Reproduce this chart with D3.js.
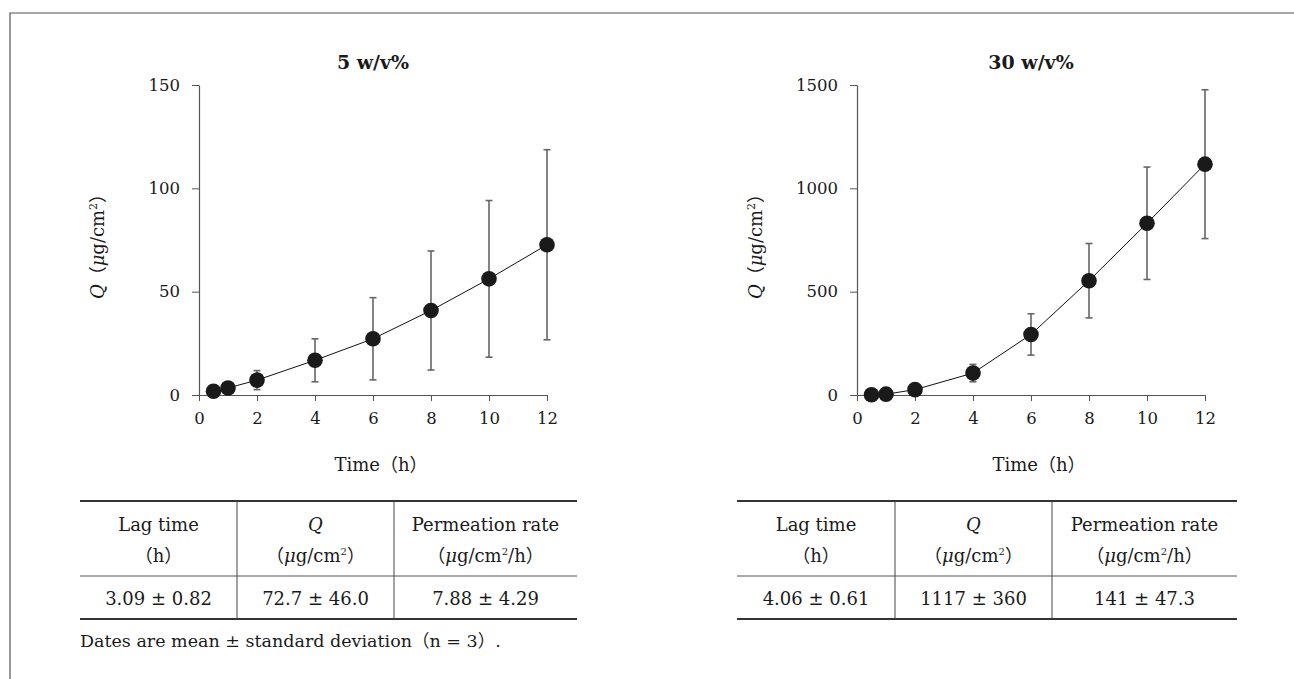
<!DOCTYPE html>
<html>
<head>
<meta charset="utf-8">
<script src="https://cdn.jsdelivr.net/npm/d3@7"></script>
<style>
  body { margin: 0; background: #fff; }
  svg text { font-family: "DejaVu Serif", "Noto Sans CJK JP", serif; fill: #1a1a1a; }
  .axis path, .axis line { stroke: #555; }
</style>
</head>
<body>
<script>
// sampling times (h)
const times = [0.5, 1, 2, 4, 6, 8, 10, 12];
// cumulative permeated amount Q (ug/cm2), mean and SD
const q5 = [1.8, 3.4, 7.2, 16.8, 27.2, 40.9, 56.2, 72.7];
const sd5 = [0.8, 1.2, 4.6, 10.4, 19.9, 28.8, 37.9, 46.0];
const q30 = [1, 4, 26, 106, 293, 553, 831, 1117];
const sd30 = [2, 3, 8, 42, 100, 180, 272, 360];

const xTicks = [0, 2, 4, 6, 8, 10, 12];
const yTicks5 = [0, 50, 100, 150];
const yTicks30 = [0, 500, 1000, 1500];

const tableHead = ["Lag time", "Q", "Permeation rate"];
const row5 = ["3.09 ± 0.82", "72.7 ± 46.0", "7.88 ± 4.29"];
const row30 = ["4.06 ± 0.61", "1117 ± 360", "141 ± 47.3"];

const W = 1294, H = 679;
const svg = d3.select("body").append("svg")
  .attr("width", W).attr("height", H);

// frame (only top and left edges show)
svg.append("path")
  .attr("d", `M10,${H}V13H${W}`)
  .attr("fill", "none").attr("stroke", "#555").attr("stroke-width", 1.2);

function panel(opt) {
  let x = d3.scaleLinear().domain([0, 12]).range([opt.x0, opt.x0 + 348]);
  let y = d3.scaleLinear().domain([0, opt.ymax]).range([395, 85]);
  let g = svg.append("g");

  // title
  g.append("text")
    .attr("x", opt.x0 + 174).attr("y", 69)
    .attr("text-anchor", "middle")
    .style("font-size", "19px").style("font-weight", "bold")
    .text(opt.title);

  // axes
  let xa = g.append("g").attr("class", "axis")
    .attr("transform", "translate(0,395)")
    .call(d3.axisBottom(x).tickValues(xTicks).tickSize(6).tickSizeOuter(0).tickPadding(11));
  let ya = g.append("g").attr("class", "axis")
    .attr("transform", "translate(" + opt.x0 + ",0)")
    .call(d3.axisLeft(y).tickValues(opt.yTicks).tickFormat(d3.format("d"))
      .tickSize(7).tickSizeOuter(0).tickPadding(12));
  [xa, ya].forEach(a => {
    a.selectAll("text").style("font-size", "16.5px").style("font-family", '"DejaVu Serif", serif').attr("fill", "#1a1a1a");
    a.select(".domain").attr("stroke-width", 1.2);
  });

  // axis titles
  g.append("text")
    .attr("x", opt.x0 + 182).attr("y", 471)
    .attr("text-anchor", "middle")
    .style("font-size", "18px")
    .text("Time（h）");

  let yl = g.append("text")
    .attr("transform", `translate(${opt.x0 - 95},242) rotate(-90)`)
    .attr("text-anchor", "middle")
    .style("font-size", "18px");
  yl.append("tspan").style("font-style", "italic").text("Q");
  yl.append("tspan").text("（");
  yl.append("tspan").style("font-style", "italic").text("μ");
  yl.append("tspan").text("g/cm");
  yl.append("tspan").attr("dy", -7).style("font-size", "11px").text("2");
  yl.append("tspan").attr("dy", 7).text("）");

  let pts = times.map((t, i) => ({t: t, q: opt.q[i], sd: opt.sd[i]}));

  // error bars
  let eb = g.append("g").attr("stroke", "#666").attr("stroke-width", 1.6);
  pts.forEach(d => {
    let cx = x(d.t);
    let lo = y(Math.max(0, d.q - d.sd)), hi = y(d.q + d.sd);
    eb.append("line").attr("x1", cx).attr("x2", cx).attr("y1", lo).attr("y2", hi);
    eb.append("line").attr("x1", cx - 3.5).attr("x2", cx + 3.5).attr("y1", lo).attr("y2", lo);
    eb.append("line").attr("x1", cx - 3.5).attr("x2", cx + 3.5).attr("y1", hi).attr("y2", hi);
  });

  // line
  g.append("path")
    .datum(pts)
    .attr("fill", "none").attr("stroke", "#111").attr("stroke-width", 1)
    .attr("d", d3.line().x(d => x(d.t)).y(d => y(d.q)));

  // points
  g.selectAll("circle.pt").data(pts).enter().append("circle")
    .attr("cx", d => x(d.t)).attr("cy", d => y(d.q))
    .attr("r", 7.8).attr("fill", "#1a1a1a");

  // table
  let cols = opt.cols; // column edges
  let tg = svg.append("g");
  tg.append("line").attr("x1", cols[0]).attr("x2", cols[3]).attr("y1", 501).attr("y2", 501)
    .attr("stroke", "#333").attr("stroke-width", 2);
  tg.append("line").attr("x1", cols[0]).attr("x2", cols[3]).attr("y1", 576).attr("y2", 576)
    .attr("stroke", "#555").attr("stroke-width", 1);
  tg.append("line").attr("x1", cols[0]).attr("x2", cols[3]).attr("y1", 619).attr("y2", 619)
    .attr("stroke", "#333").attr("stroke-width", 2);
  [cols[1], cols[2]].forEach(cx => {
    tg.append("line").attr("x1", cx).attr("x2", cx).attr("y1", 501).attr("y2", 619)
      .attr("stroke", "#444").attr("stroke-width", 1);
  });
  for (let i = 0; i < 3; i++) {
    let cx = (cols[i] + cols[i + 1]) / 2;
    let h = tg.append("text").attr("x", cx).attr("y", 531)
      .attr("text-anchor", "middle").style("font-size", "18px").text(tableHead[i]);
    if (i == 1) h.style("font-style", "italic");
    let u = tg.append("text").attr("x", cx).attr("y", 562)
      .attr("text-anchor", "middle").style("font-size", "18px");
    if (i == 0) {
      u.text("（h）");
    } else {
      u.append("tspan").text("（");
      u.append("tspan").style("font-style", "italic").text("μ");
      u.append("tspan").text("g/cm");
      u.append("tspan").attr("dy", -7).style("font-size", "10px").text("2");
      u.append("tspan").attr("dy", 7).text(i == 2 ? "/h）" : "）");
    }
    tg.append("text").attr("x", cx).attr("y", 605)
      .attr("text-anchor", "middle").style("font-size", "18px").text(opt.row[i]);
  }
}

panel({x0: 199, ymax: 150, yTicks: yTicks5, q: q5, sd: sd5, title: "5 w/v%",
       cols: [80, 237, 394, 577], row: row5});
panel({x0: 857, ymax: 1500, yTicks: yTicks30, q: q30, sd: sd30, title: "30 w/v%",
       cols: [737, 895, 1052, 1237], row: row30});

// footnote
svg.append("text")
  .attr("x", 80).attr("y", 647)
  .style("font-size", "17.5px")
  .text("Dates are mean ± standard deviation（n = 3）.");
</script>
</body>
</html>
